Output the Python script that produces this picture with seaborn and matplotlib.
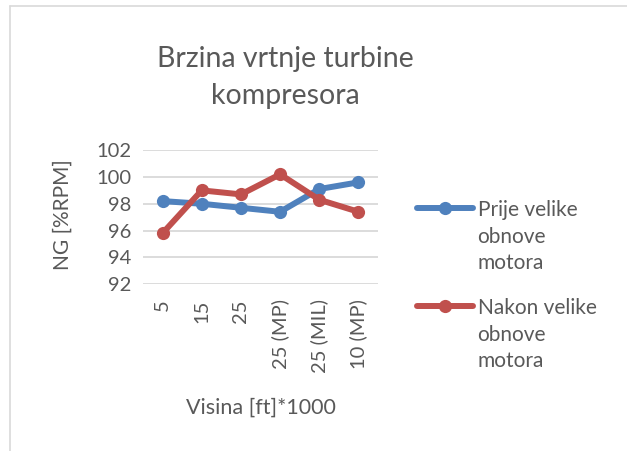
import matplotlib
matplotlib.use("Agg")
import matplotlib.pyplot as plt
import seaborn as sns
import pandas as pd

categories = ["5", "15", "25", "25 (MP)", "25 (MIL)", "10 (MP)"]
prije = [98.2, 98.0, 97.7, 97.4, 99.1, 99.6]
nakon = [95.8, 99.0, 98.7, 100.2, 98.3, 97.4]
series_names = ["Prije velike\nobnove\nmotora", "Nakon velike\nobnove\nmotora"]
y_ticks = [92, 94, 96, 98, 100, 102]

BLUE = "#4F81BD"
RED = "#C0504D"
TEXT = "#595959"
GRID = "#D9D9D9"

sns.set_theme(style="white")
plt.rcParams["font.family"] = ["Lato", "DejaVu Sans"]

df = pd.DataFrame({
    "visina": categories * 2,
    "ng": prije + nakon,
    "serija": [series_names[0]] * len(categories) + [series_names[1]] * len(categories),
})
df["pos"] = list(range(len(categories))) * 2

fig = plt.figure(figsize=(6.27, 4.51), dpi=100)
ax = fig.add_axes([0.228, 0.370, 0.375, 0.297])

sns.lineplot(data=df, x="pos", y="ng", hue="serija", palette=[BLUE, RED],
             marker="o", markersize=9.5, linewidth=4.3, markeredgewidth=0,
             ax=ax, legend=True)

ax.set_xlim(-0.5, len(categories) - 0.5)
ax.set_ylim(92, 102)
ax.set_yticks(y_ticks)
ax.set_yticklabels([str(v) for v in y_ticks], color=TEXT, fontsize=14.5)
ax.set_xticks(range(len(categories)))
ax.set_xticklabels(categories, rotation=90, color=TEXT, fontsize=14.5)
ax.tick_params(axis="y", length=0, pad=8)
ax.tick_params(axis="x", length=0, pad=11)
ax.yaxis.grid(True, color=GRID, linewidth=1.3)
for s in ax.spines.values():
    s.set_visible(False)

ax.set_xlabel("Visina [ft]*1000", color=TEXT, fontsize=15.5)
ax.xaxis.set_label_coords(0.5, -0.845)
ax.set_ylabel("NG [%RPM]", color=TEXT, fontsize=15)
ax.yaxis.set_label_coords(-0.298, 0.52)

fig.text(0.455, 0.828, "Brzina vrtnje turbine\nkompresora", ha="center", va="center",
         fontsize=20.5, color=TEXT, linespacing=1.55)

leg = ax.legend(loc="upper left", bbox_to_anchor=(1.166, 0.625), frameon=False,
                fontsize=15, labelcolor=TEXT, handlelength=2.7, handletextpad=0.2,
                labelspacing=1.2, borderaxespad=0, borderpad=0)
for col in leg._legend_handle_box.get_children():
    for hp in col.get_children():
        hp.align = "top"
for t in leg.get_texts():
    t.set_multialignment("left")
    t.set_linespacing(1.4)

# chart border (visible left and top edges)
fig.add_artist(plt.Line2D([0.016, 0.016], [0, 0.987], color=GRID, linewidth=1.2,
                          transform=fig.transFigure))
fig.add_artist(plt.Line2D([0.016, 1.0], [0.987, 0.987], color=GRID, linewidth=1.2,
                          transform=fig.transFigure))

fig.savefig("out.png", dpi=100, facecolor="white")
